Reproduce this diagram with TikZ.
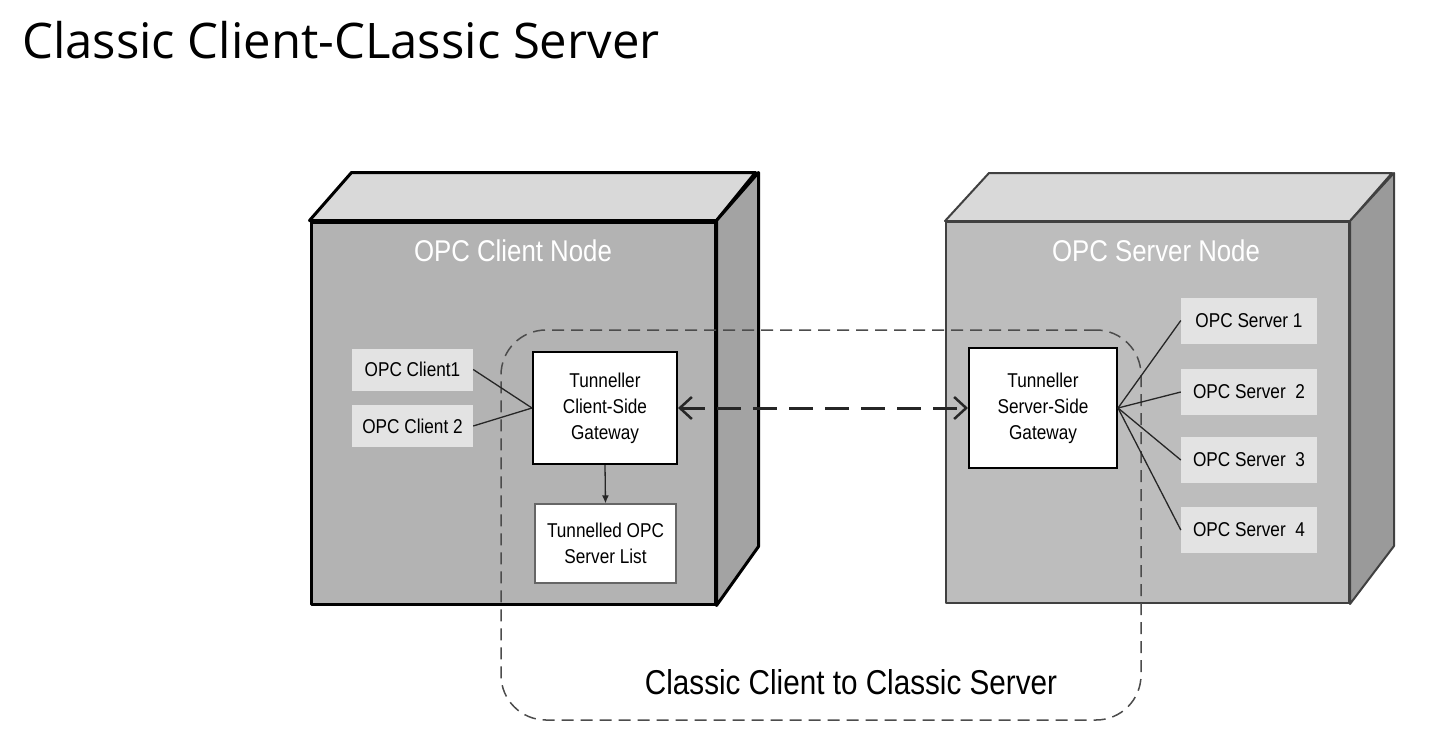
\documentclass[tikz,border=0pt]{standalone}
\usepackage{fontspec}
\setmainfont{Liberation Sans}[FakeStretch=0.86]
\newfontfamily\titlefont{Open Sans}
\usepackage{xcolor}
\usepackage{tikz}
\usetikzlibrary{positioning,calc}
\usetikzlibrary{arrows.meta}
\tikzset{>=stealth}
\definecolor{facegray}{HTML}{B3B3B3}
\definecolor{topgray}{HTML}{D9D9D9}
\definecolor{sidegray}{HTML}{A3A3A3}
\definecolor{srvface}{HTML}{BDBDBD}
\definecolor{labelgray}{HTML}{E3E3E3}

\begin{document}
\begin{tikzpicture}[x=1pt, y=-1pt,
cface/.style={draw=black, line width=3pt, line join=round},
sface/.style={draw=black!75, line width=2pt, line join=round},
nodetitle/.style={text=white, font=\fontsize{30}{36}\selectfont, inner sep=0pt},
label/.style={fill=labelgray, font=\fontsize{20}{26}\selectfont,
  minimum height=42pt, inner sep=0pt},
gate/.style={draw, fill=white, line width=2pt, align=center,
  font=\fontsize{20}{26}\selectfont, inner sep=0pt},
link/.style={draw=black!85, line width=1.3pt}]
\useasboundingbox [fill=white] (0,0) rectangle (1448,737);
\node [anchor=base west, inner sep=0pt, font=\titlefont\fontsize{49}{58}\selectfont]
  (title) at (22,58) {Classic Client-CLassic Server};
%% Client node
\node [cface, fill=facegray, minimum width=404pt, minimum height=382pt,
  inner sep=0pt] (cnode) at (513,413) {};
\draw [cface, fill=topgray] (cnode.north west) -- ++(42,-48) -- ++(404,0)
  -- (cnode.north east) -- cycle;
\draw [cface, fill=sidegray] (cnode.north east) -- ++(42,-48) -- ++(0,374)
  -- (cnode.south east) -- cycle;
\node [nodetitle] (ctitle) at (513,251) {OPC Client Node};
%% Server node
\node [sface, fill=srvface, minimum width=403pt, minimum height=381pt,
  inner sep=0pt] (snode) at (1147.5,412.5) {};
\draw [sface, fill=topgray] (snode.north west) -- ++(44,-48) -- ++(403,0)
  -- (snode.north east) -- cycle;
\draw [sface, fill=sidegray!110] (snode.north east) -- ++(44,-48) -- ++(0,373)
  -- (snode.south east) -- cycle;
\node [nodetitle] (stitle) at (1156,251) {OPC Server Node};
%% Tunnel group
\node [draw=black!70, line width=1.5pt, dash pattern=on 12pt off 7pt,
  rounded corners=45pt, minimum width=640pt, minimum height=390pt,
  inner sep=0pt] (group) at (821,525) {};
\node [font=\fontsize{34.5}{40}\selectfont, inner sep=0pt] (glabel) at (851,682)
  {Classic Client to Classic Server};
%% Clients
\node [label, minimum width=121pt] (client1) at (412.5,369.5) {OPC Client1};
\node [label, minimum width=121pt] (client2) at (412.5,426) {OPC Client 2};
\node [gate, minimum width=144pt, minimum height=112pt] (cgate) at (605,408)
  {Tunneller\\Client-Side\\Gateway};
\node [gate, draw=black!60, line width=1.3pt, minimum width=141pt,
  minimum height=79pt] (slist) at (605.5,543.5) {Tunnelled OPC\\Server List};
%% Servers
\node [gate, minimum width=148pt, minimum height=120pt] (sgate) at (1043,408)
  {Tunneller\\Server-Side\\Gateway};
\node [label, minimum width=136pt, minimum height=46pt] (srv1) at (1249,320.5) {OPC Server 1};
\node [label, minimum width=136pt, minimum height=46pt] (srv2) at (1249,392) {OPC Server~ 2};
\node [label, minimum width=136pt, minimum height=46pt] (srv3) at (1249,460) {OPC Server~ 3};
\node [label, minimum width=136pt, minimum height=46pt] (srv4) at (1249,530) {OPC Server~ 4};
%% Links
\path [link] (client1.east) -- (cgate.west);
\path [link] (client2.east) -- (cgate.west);
\path [link, -{Latex[length=8pt, width=7pt]}] (cgate.south) -- (slist.north);
\path [link] (sgate.east) -- (srv1.west);
\path [link] (sgate.east) -- (srv2.west);
\path [link] (sgate.east) -- (srv3.west);
\path [link] (sgate.east) -- (srv4.west);
%% Tunnel
\path [draw=black!85, line width=3pt, dash pattern=on 24pt off 12pt,
  {Straight Barb[length=12pt, width=22pt, line width=2.5pt]}-{Straight Barb[length=12pt, width=22pt, line width=2.5pt]}]
  (cgate.east) -- (sgate.west);
\end{tikzpicture}
\end{document}
